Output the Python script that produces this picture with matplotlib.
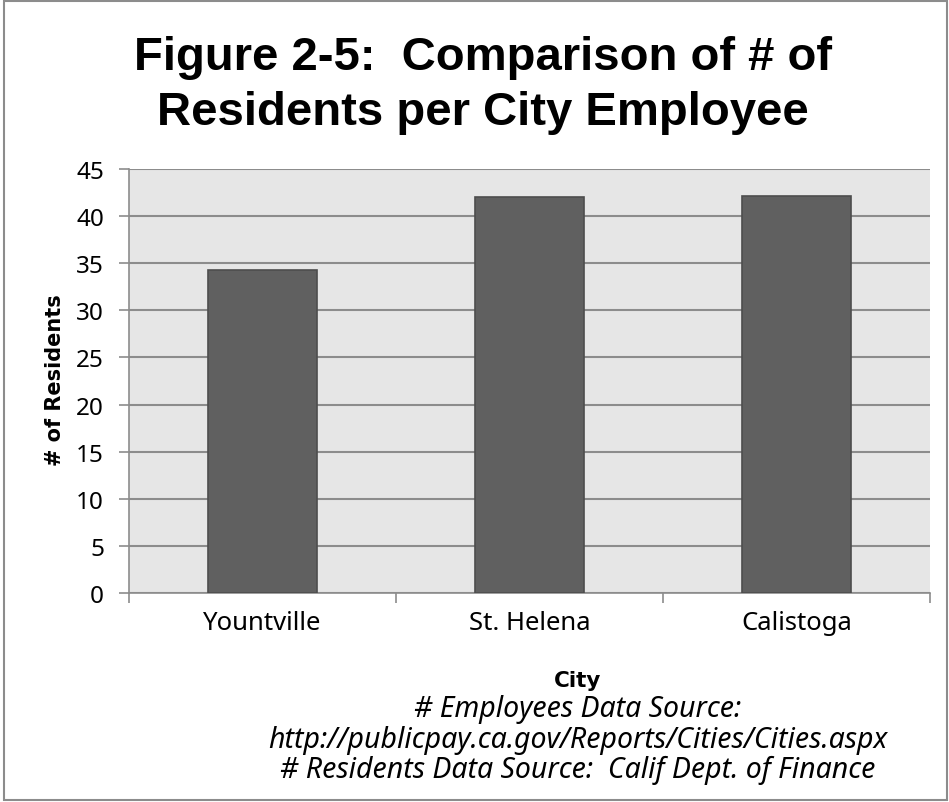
import numpy as np
import matplotlib.pyplot as plt
from matplotlib.patches import Rectangle

cities = ["Yountville", "St. Helena", "Calistoga"]
residents_per_employee = [34.3, 42.0, 42.1]
y_ticks = [0, 5, 10, 15, 20, 25, 30, 35, 40, 45]

plt.rcParams['font.family'] = ['Noto Sans', 'DejaVu Sans']
BOLD = ['DejaVu Sans']

W, H = 949, 803
fig = plt.figure(figsize=(W / 100, H / 100), dpi=100)


def fy(py):
    # pixel row from top -> figure fraction
    return 1 - py / H


# axes box in pixels (left, top, right, bottom)
L, T, R, B = 129, 170, 930, 594
ax = fig.add_axes([L / W, fy(B), (R - L) / W, (B - T) / H])
ax.set_facecolor("#e6e6e6")

x = np.arange(len(cities))
ax.bar(x, residents_per_employee, width=0.405, color="#606060",
       edgecolor="#4d4d4d", linewidth=1.2, zorder=3)

ax.set_xlim(-0.5, len(cities) - 0.5)
ax.set_ylim(0, 45)
ax.set_yticks(y_ticks)
ax.yaxis.grid(True, color="#8c8c8c", linewidth=1.5, zorder=1)
ax.set_axisbelow(True)

# category labels between boundary ticks
ax.set_xticks(np.arange(-0.5, len(cities), 1.0))
ax.set_xticklabels([])
ax.set_xticks(x, minor=True)
ax.set_xticklabels(cities, minor=True, fontsize=18.5)
ax.tick_params(axis="x", which="minor", length=0, pad=12)
ax.tick_params(axis="x", which="major", length=7, color="#8c8c8c", width=1.2)
ax.tick_params(axis="y", length=7, color="#8c8c8c", width=1.2, labelsize=17.5, pad=11)

for side in ["top", "right"]:
    ax.spines[side].set_visible(False)
for side in ["left", "bottom"]:
    ax.spines[side].set_color("#8c8c8c")
    ax.spines[side].set_linewidth(1.2)

fig.text(55 / W, fy(380), "# of Residents", rotation=90, ha="center", va="center",
         fontsize=15, fontweight="bold", family=BOLD)

title_lines = ["Figure 2-5:  Comparison of # of", "Residents per City Employee"]
for line, base in zip(title_lines, [70, 125]):
    fig.text(483 / W, fy(base), line, ha="center", va="baseline",
             fontsize=34, fontweight="bold", family=['Liberation Sans'])

fig.text(578 / W, fy(687), "City", ha="center", va="baseline", fontsize=15.5,
         fontweight="bold", family=BOLD)
source_lines = ["# Employees Data Source:",
                "http://publicpay.ca.gov/Reports/Cities/Cities.aspx",
                "# Residents Data Source:  Calif Dept. of Finance"]
for line, base in zip(source_lines, [717, 748, 778]):
    fig.text(578 / W, fy(base), line, ha="center", va="baseline",
             fontsize=20.5, style="italic")

# outer chart border
fig.patches.append(Rectangle((4 / W, 2 / H), (W - 6) / W, (H - 4) / H, transform=fig.transFigure,
                             fill=False, edgecolor="#8c8c8c", linewidth=1.5))

fig.savefig("out.png", dpi=100)
